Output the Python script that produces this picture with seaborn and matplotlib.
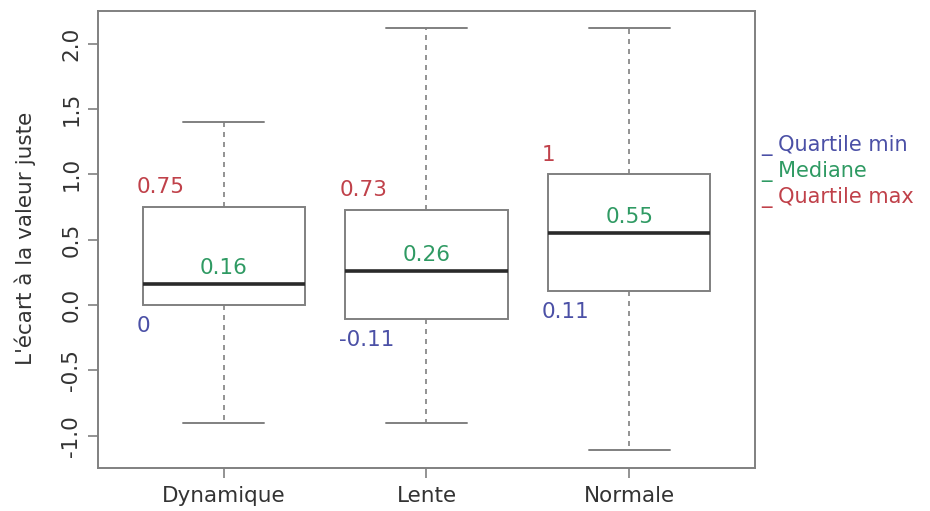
import numpy as np
import pandas as pd
import matplotlib
matplotlib.use("Agg")
import matplotlib.pyplot as plt
import seaborn as sns

# ---- data ----
categories = ["Dynamique", "Lente", "Normale"]
whisker_low = [-0.90, -0.90, -1.11]
quartile_min = [0.0, -0.11, 0.11]
mediane = [0.16, 0.26, 0.55]
quartile_max = [0.75, 0.73, 1.0]
whisker_high = [1.40, 2.12, 2.12]
y_ticks = [-1.0, -0.5, 0.0, 0.5, 1.0, 1.5, 2.0]
legend_labels = ["Quartile min", "Mediane", "Quartile max"]

rows = []
for c, lo, q1, md, q3, hi in zip(categories, whisker_low, quartile_min, mediane, quartile_max, whisker_high):
    for v in (lo, q1, md, q3, hi):
        rows.append({"groupe": c, "valeur": v})
df = pd.DataFrame(rows)

sns.set_theme(style="white")
plt.rcParams["font.family"] = ["DejaVu Sans"]

RED = "#c0414a"
GREEN = "#2f9a63"
BLUE = "#4b50a6"
GRAY = "#808080"
TXT = "#333333"
FS = 15.5

fig = plt.figure(figsize=(9.3, 5.11), dpi=100)
ax = fig.add_axes([0.1054, 0.0841, 0.7064, 0.8944])

sns.boxplot(data=df, x="groupe", y="valeur", order=categories, ax=ax,
            whis=(0, 100), width=0.8, color="white", linecolor=GRAY,
            linewidth=1.4, showfliers=False,
            medianprops=dict(color="#2a2a2a", linewidth=2.6),
            whiskerprops=dict(linestyle=(0, (3, 3)), color=GRAY, linewidth=1.2),
            capprops=dict(color=GRAY, linewidth=1.4),
            boxprops=dict(edgecolor=GRAY, facecolor="white"))

ax.set_xlim(-0.62, 2.62)
ax.set_ylim(-1.247, 2.25)
ax.set_yticks(y_ticks)
ax.set_yticklabels([f"{t:.1f}" for t in y_ticks], rotation=90, va="center")
ax.set_xlabel("")
ax.set_ylabel("")
fig.text(25 / 930, 1 - 238 / 511, "L'écart à la valeur juste", rotation=90,
         ha="center", va="center", fontsize=FS, color=TXT)

for s in ax.spines.values():
    s.set_color(GRAY)
    s.set_linewidth(1.4)
ax.tick_params(axis="both", which="both", direction="out", length=7, width=1.2,
               color=GRAY, labelsize=FS, labelcolor=TXT,
               left=True, bottom=True)
ax.tick_params(axis="y", pad=5)
ax.tick_params(axis="x", pad=6)

for i, (q1, md, q3) in enumerate(zip(quartile_min, mediane, quartile_max)):
    ax.text(i - 0.43, q3 + 0.15, f"{q3:g}", color=RED, fontsize=FS,
            ha="left", va="center")
    ax.text(i, md + 0.12, f"{md:g}", color=GREEN, fontsize=FS,
            ha="center", va="center")
    ax.text(i - 0.43, q1 - 0.16, f"{q1:g}", color=BLUE, fontsize=FS,
            ha="left", va="center")

leg_colors = [BLUE, GREEN, RED]
leg_y = [146, 171, 197]
for lab, col, yy in zip(legend_labels, leg_colors, leg_y):
    fig.text(761 / 930, 1 - yy / 511, "_ " + lab, color=col, fontsize=15,
             ha="left", va="center")

fig.savefig("out.png", dpi=100)
